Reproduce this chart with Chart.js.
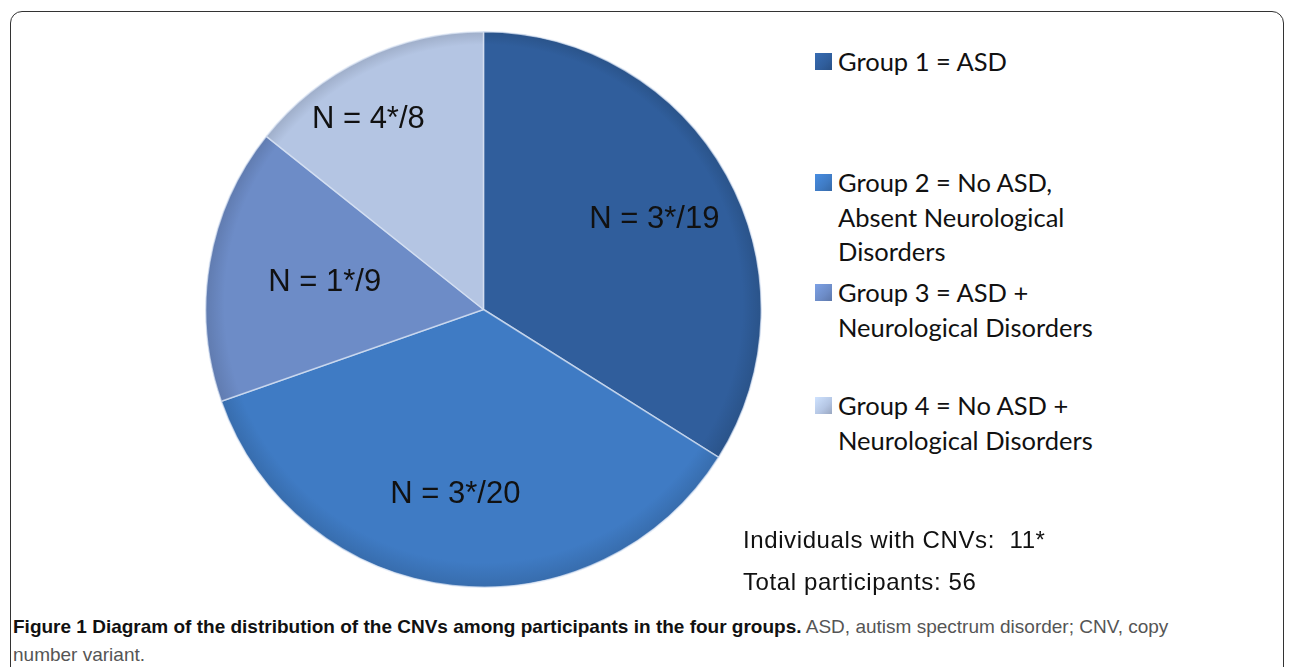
<!DOCTYPE html>
<html>
<head>
<meta charset="utf-8">
<script src="https://cdn.jsdelivr.net/npm/chart.js@4.4.0/dist/chart.umd.min.js"></script>
<style>
  body { margin: 0; background: #fff; width: 1290px; height: 667px; overflow: hidden; position: relative; font-family: "Liberation Sans", Arial, sans-serif; }
  .frame { position: absolute; left: 10px; top: 11px; width: 1274px; height: 700px; border: 1.5px solid #333; border-radius: 12px; box-sizing: border-box; }
  .pie-box { position: absolute; left: 205px; top: 31px; width: 557px; height: 557px; }
  #legend { position: absolute; left: 815px; top: 0; font-family: Lato, "Open Sans", sans-serif; font-size: 25.5px; color: #111; }
  .item { position: absolute; left: 0; white-space: nowrap; line-height: 34.5px; }
  .swatch { position: absolute; left: 0; top: 9px; width: 17px; height: 17px; }
  .item .txt { margin-left: 23px; }
  .note { position: absolute; left: 743px; font-size: 24px; letter-spacing: 0.6px; color: #111; }
  .caption { position: absolute; left: 13px; top: 613px; width: 1180px; font-family: "Liberation Sans", sans-serif; font-size: 19px; line-height: 28px; color: #555; }
  .caption b { color: #111; }
</style>
</head>
<body>
<div class="frame"></div>
<div class="pie-box"><canvas id="myChart"></canvas></div>
<div id="legend"></div>
<div class="note" style="top: 526px;">Individuals with CNVs:&nbsp; 11*</div>
<div class="note" style="top: 568px;">Total participants: 56</div>
<div class="caption"><b>Figure 1 Diagram of the distribution of the CNVs among participants in the four groups.</b> ASD, autism spectrum disorder; CNV, copy number variant.</div>
<script>
// data
var groups = ['Group 1 = ASD',
              'Group 2 = No ASD,\nAbsent Neurological\nDisorders',
              'Group 3 = ASD +\nNeurological Disorders',
              'Group 4 = No ASD +\nNeurological Disorders'];
var participants = [19, 20, 9, 8];
var withCNV = [3, 3, 1, 4];

var colors = ['#305e9c', '#3f7bc4', '#6d8cc7', '#b4c5e3'];
// where each "N = ..." sits: fraction of radius, angle nudge in degrees
var labelDist = [0.695, 0.675, 0.58, 0.80];
var labelTurn = [1.2, 2.2, 0, -5.5];
var legendTops = [44, 165, 275, 388];

// shaded fill so slices look a little bevelled
function sliceFill(context) {
    var chart = context.chart;
    var c = colors[context.dataIndex];
    var area = chart.chartArea;
    if (!area) return c;
    var cx = (area.left + area.right) / 2, cy = (area.top + area.bottom) / 2;
    var r = Math.min(area.right - area.left, area.bottom - area.top) / 2;
    var g = chart.ctx.createRadialGradient(cx, cy - r * 0.3, 0, cx, cy, r);
    g.addColorStop(0, c);
    g.addColorStop(0.93, c);
    g.addColorStop(1, shade(c, -0.12));
    return g;
}
function shade(hex, amt) {
    var n = parseInt(hex.slice(1), 16);
    var r = (n >> 16) & 255, g = (n >> 8) & 255, b = n & 255;
    r = Math.min(255, Math.round(r * (1 + amt)));
    g = Math.min(255, Math.round(g * (1 + amt)));
    b = Math.min(255, Math.round(b * (1 + amt)));
    return 'rgb(' + r + ',' + g + ',' + b + ')';
}

var sliceLabels = {
    id: 'sliceLabels',
    afterDatasetsDraw: function(chart) {
        var ctx = chart.ctx;
        var meta = chart.getDatasetMeta(0);
        ctx.save();
        ctx.font = '31px "Liberation Sans", Arial, sans-serif';
        ctx.fillStyle = '#111';
        ctx.textAlign = 'center';
        ctx.textBaseline = 'middle';
        meta.data.forEach(function(arc, i) {
            var p = arc.getProps(['x', 'y', 'startAngle', 'endAngle', 'outerRadius']);
            var mid = (p.startAngle + p.endAngle) / 2 + labelTurn[i] * Math.PI / 180;
            var d = p.outerRadius * labelDist[i];
            ctx.fillText('N = ' + withCNV[i] + '*/' + participants[i], p.x + Math.cos(mid) * d, p.y + Math.sin(mid) * d);
        });
        ctx.restore();
    }
};

var ctx = document.getElementById('myChart').getContext('2d');
var chart = new Chart(ctx, {
    type: 'pie',
    data: {
        labels: groups,
        datasets: [{
            data: participants,
            backgroundColor: sliceFill,
            borderColor: 'rgba(220,230,245,0.7)',
            borderWidth: 1.5
        }]
    },
    options: {
        responsive: true,
        maintainAspectRatio: false,
        animation: false,
        layout: { padding: 0 },
        plugins: {
            legend: { display: false },
            tooltip: { enabled: false }
        }
    },
    plugins: [sliceLabels]
});

// legend built from the same labels and colours
var legend = document.getElementById('legend');
groups.forEach(function(g, i) {
    var item = document.createElement('div');
    item.className = 'item';
    item.style.top = legendTops[i] + 'px';
    var sw = document.createElement('div');
    sw.className = 'swatch';
    sw.style.background = 'linear-gradient(135deg, ' + shade(colors[i], 0.15) + ', ' + colors[i] + ' 60%, ' + shade(colors[i], -0.15) + ')';
    item.appendChild(sw);
    var txt = document.createElement('div');
    txt.className = 'txt';
    txt.innerHTML = g.split('\n').join('<br>');
    item.appendChild(txt);
    legend.appendChild(item);
});
</script>
</body>
</html>
